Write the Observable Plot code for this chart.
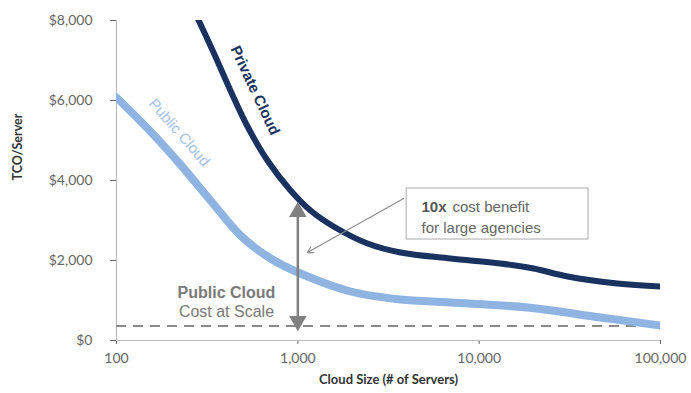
<!DOCTYPE html>
<html><head><meta charset="utf-8">
<script src="https://cdn.jsdelivr.net/npm/d3@7"></script>
<script src="https://cdn.jsdelivr.net/npm/@observablehq/plot@0.6"></script>
<style>body{margin:0;background:#fff;}</style>
</head><body><div id="chart"></div>
<script>
// Series data (servers vs TCO per server, USD)
const privateServers = [266, 343, 425, 528, 680, 912, 1175, 1574, 2423, 3685, 6950, 13100, 19950, 30740, 57960, 100000];
const privateCost    = [8275, 7200, 6250, 5350, 4500, 3750, 3250, 2850, 2425, 2200, 2050, 1925, 1800, 1600, 1425, 1350];
const publicServers  = [100, 154, 225, 330, 483, 707, 1035, 1955, 3685, 6950, 18500, 46700, 100000];
const publicCost     = [6075, 5225, 4400, 3500, 2625, 2050, 1675, 1225, 1025, 950, 825, 575, 375];

// Axis ticks
const xTicks = [100, 1000, 10000, 100000];
const yTicks = [0, 2000, 4000, 6000, 8000];

// Annotation values
const publicAtScale = 360;            // dashed reference level
const gapAt = 1000;                   // servers where the gap arrow sits
const gapTop = 3325, gapBottom = 375; // arrow ends
const seriesLabels = ["Private Cloud", "Public Cloud"];
const seriesLabelPos = [[580, 6250, 65], [222, 5200, 49]];
const boxCorners = [3980, 40100, 2525, 3800];
const boxLine1 = ["10x", "cost benefit"];
const boxLine2 = "for large agencies";
const pointer = [3830, 3550, 1130, 2200];
const scaleLabel = ["Public Cloud", "Cost at Scale"];

const privateData = privateServers.map((s, i) => ({s, v: privateCost[i]}));
const publicData = publicServers.map((s, i) => ({s, v: publicCost[i]}));

const navy = "#1a3260", light = "#8fb4e2", grey = "#808080";
const ann = "Liberation Sans, Arial, sans-serif";

const chart = Plot.plot({
  width: 691, height: 393,
  marginLeft: 116, marginRight: 31, marginTop: 20, marginBottom: 53,
  style: {fontFamily: "Lato, sans-serif", fontSize: "14px", color: "#666", background: "#fff"},
  x: {type: "log", domain: [100, 100000], ticks: xTicks, tickFormat: d3.format(","), label: null, tickSize: 4, tickPadding: 9},
  y: {domain: [0, 8000], ticks: yTicks, tickFormat: d => "$" + d3.format(",")(d), label: null, tickSize: 6, tickPadding: 18},
  marks: [
    Plot.ruleX([100], {stroke: "#bbb", strokeWidth: 1.2}),
    Plot.ruleY([0], {stroke: "#bbb", strokeWidth: 1.2}),
    Plot.ruleY([publicAtScale], {stroke: "#8a8a8a", strokeWidth: 2, strokeDasharray: "10,7"}),
    Plot.line(publicData, {x: "s", y: "v", stroke: light, strokeWidth: 8, curve: "catmull-rom", clip: true}),
    Plot.line(privateData, {x: "s", y: "v", stroke: navy, strokeWidth: 6, curve: "catmull-rom", clip: true}),
    // gap arrow
    Plot.link([0], {x1: gapAt, x2: gapAt, y1: gapTop - 150, y2: gapBottom + 150, stroke: grey, strokeWidth: 2.5}),
    Plot.dot([0], {x: gapAt, y: gapTop - 110, symbol: "triangle", r: 6.5, fill: grey, stroke: "none"}),
    Plot.dot([0], {x: gapAt, y: gapBottom + 110, symbol: "triangle", r: 6.5, fill: grey, stroke: "none", rotate: 180}),
    // pointer arrow and box
    Plot.arrow([0], {x1: pointer[0], y1: pointer[1], x2: pointer[2], y2: pointer[3], stroke: "#8c8c8c", strokeWidth: 1.2, headLength: 8, bend: 0}),
    Plot.rect([0], {x1: boxCorners[0], x2: boxCorners[1], y1: boxCorners[2], y2: boxCorners[3], fill: "#fff", stroke: "#aaa", strokeWidth: 1}),
    Plot.text([boxLine1[0]], {x: 4810, y: 3325, text: d => d, textAnchor: "start", fontWeight: "bold", fontSize: 15, fill: "#555", fontFamily: ann}),
    Plot.text([boxLine1[1]], {x: 7130, y: 3325, text: d => d, textAnchor: "start", fontSize: 15, fill: "#666", fontFamily: ann}),
    Plot.text([boxLine2], {x: 4810, y: 2800, text: d => d, textAnchor: "start", fontSize: 15, fill: "#666", fontFamily: ann}),
    // cost at scale label
    Plot.text([scaleLabel[0]], {x: 404, y: 1200, text: d => d, fontWeight: "bold", fontSize: 16, fill: "#7a7a7a", fontFamily: ann}),
    Plot.text([scaleLabel[1]], {x: 404, y: 725, text: d => d, fontSize: 16, fill: "#7a7a7a", fontFamily: ann}),
    // series labels
    Plot.text([seriesLabels[0]], {x: seriesLabelPos[0][0], y: seriesLabelPos[0][1], rotate: seriesLabelPos[0][2], text: d => d, fontWeight: "bold", fontSize: 15, fill: navy, fontFamily: ann}),
    Plot.text([seriesLabels[1]], {x: seriesLabelPos[1][0], y: seriesLabelPos[1][1], rotate: seriesLabelPos[1][2], text: d => d, fontSize: 15, fill: "#a6c2e8", fontFamily: ann}),
    // axis titles
    Plot.text(["Cloud Size (# of Servers)"], {frameAnchor: "bottom", dy: 43, text: d => d, fontWeight: "bold", fontSize: 13, fill: "#333"}),
    Plot.text(["TCO/Server"], {frameAnchor: "left", dx: -99, rotate: -90, text: d => d, fontWeight: "bold", fontSize: 12.5, fill: "#333"})
  ]
});
document.getElementById("chart").append(chart);
</script>
</body></html>
